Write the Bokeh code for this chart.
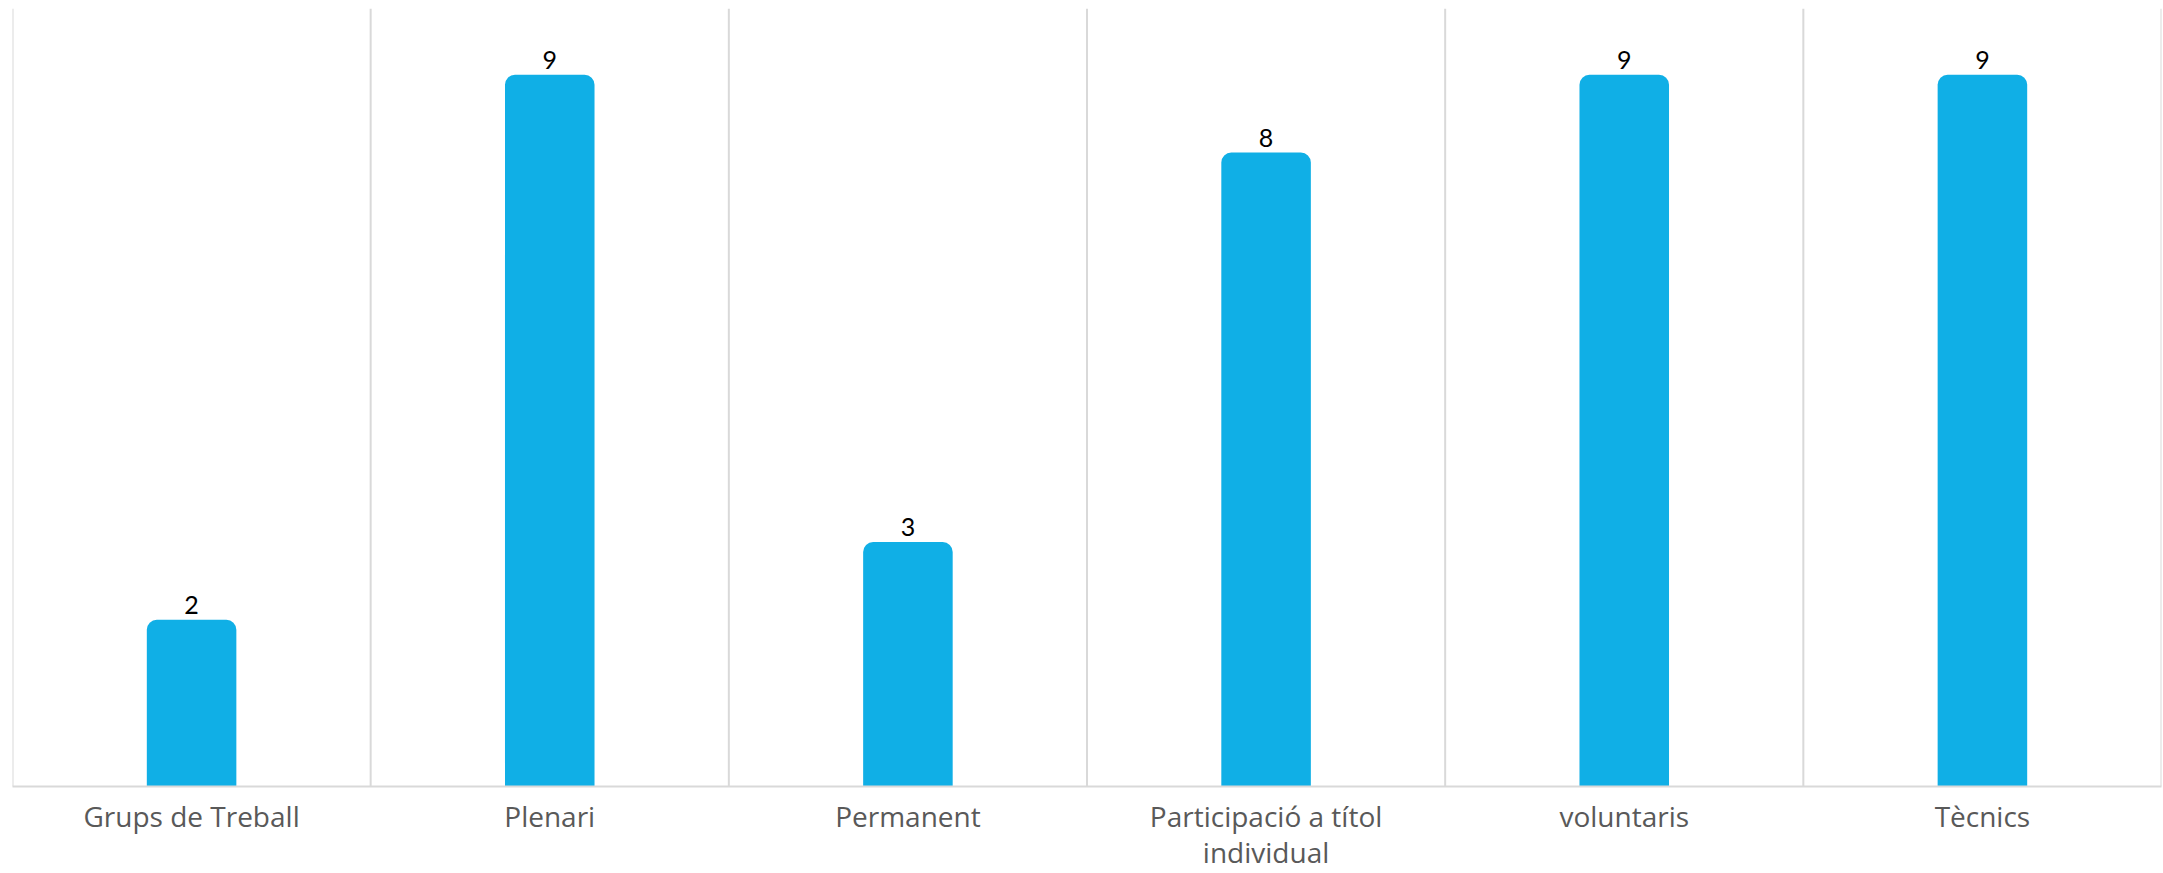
from bokeh.plotting import figure
from bokeh.models import FactorRange, Range1d, Span, ColumnDataSource, LinearAxis, FixedTicker
from bokeh.core.properties import value
from bokeh.embed import file_html
from bokeh.resources import INLINE

categories = ["Grups de Treball", "Plenari", "Permanent",
              "Participació a títol individual", "voluntaris", "Tècnics"]
counts = [2, 9, 3, 8, 9, 9]
tick_labels = ["Grups de Treball", "Plenari", "Permanent",
               "Participació a títol\nindividual", "voluntaris", "Tècnics"]

Y_MIN, Y_MAX = -0.14, 9.85

p = figure(x_range=FactorRange(*categories, range_padding=0),
           y_range=Range1d(Y_MIN, Y_MAX),
           width=2163, height=873, output_backend="svg", toolbar_location=None,
           min_border_left=12, min_border_right=2, min_border_top=8, min_border_bottom=86,
           x_axis_location=None, y_axis_location=None)
p.outline_line_color = None
p.xgrid.grid_line_color = None
p.ygrid.grid_line_color = None
p.background_fill_color = "white"
p.border_fill_color = "white"

for i in range(len(categories) + 1):
    p.add_layout(Span(location=i, dimension="height", line_color="#d9d9d9", line_width=2))

src = ColumnDataSource(dict(x=categories, top=counts, bottom=[Y_MIN] * len(counts),
                            lab=[str(c) for c in counts]))
p.vbar(x="x", top="top", bottom="bottom", width=0.25, source=src,
       fill_color="#10AFE6", line_color=None, border_radius=(10, 10, 0, 0))
p.text(x="x", y="top", text="lab", source=src, text_align="center",
       text_baseline="bottom", y_offset=-6, text_font=value("Lato"),
       text_font_size="25px", text_color="black")

# category centres in the factor range's synthetic coordinates
centres = [i + 0.5 for i in range(len(categories))]
ax = LinearAxis(ticker=FixedTicker(ticks=centres, minor_ticks=[]))
ax.major_label_overrides = {c: t for c, t in zip(centres, tick_labels)}
ax.axis_line_color = "#d9d9d9"
ax.axis_line_width = 2
ax.major_tick_line_color = None
ax.minor_tick_line_color = None
ax.major_tick_out = 0
ax.major_tick_in = 0
ax.minor_tick_out = 0
ax.major_label_text_font = "Open Sans"
ax.major_label_text_font_size = "28px"
ax.major_label_text_line_height = 0.95
ax.major_label_text_color = "#595959"
ax.major_label_standoff = 10
p.add_layout(ax, "below")

open("out.html", "w").write(file_html(p, INLINE))
